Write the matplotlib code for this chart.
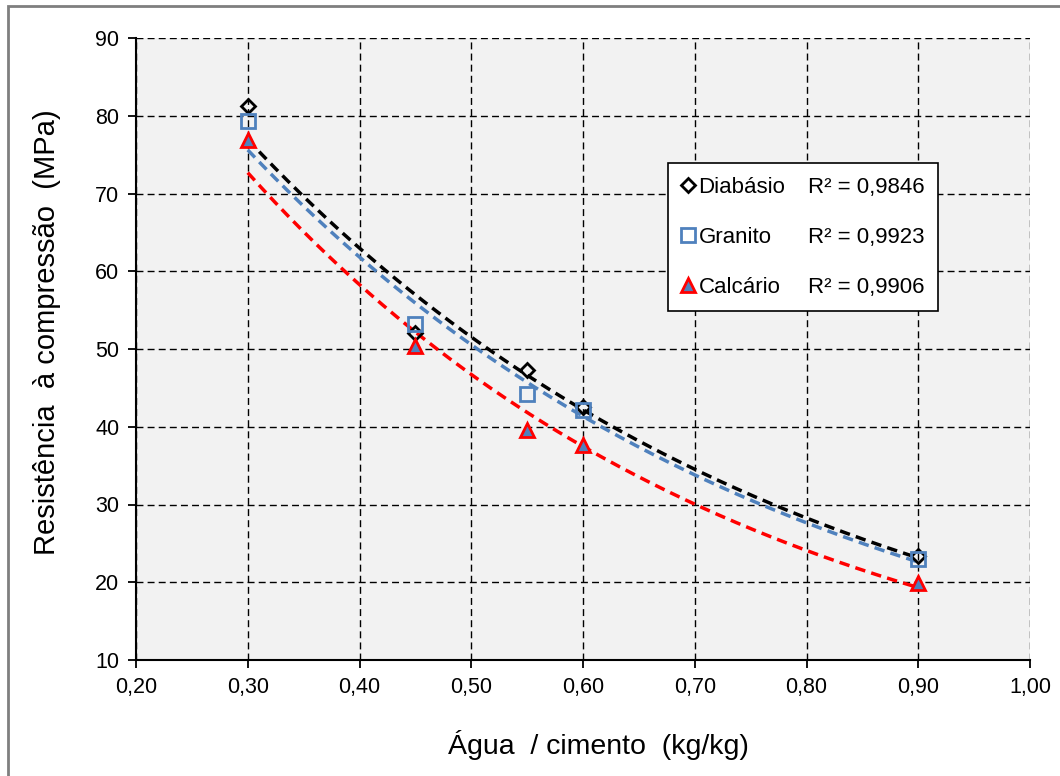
import matplotlib
matplotlib.use("Agg")
import matplotlib.pyplot as plt
import matplotlib.patches as patches
from matplotlib.lines import Line2D
from matplotlib.ticker import FuncFormatter, MultipleLocator
import numpy as np

plt.rcParams["font.family"] = ["Liberation Sans", "DejaVu Sans"]

# water/cement ratio and compressive strength (MPa)
wc = np.array([0.30, 0.45, 0.55, 0.60, 0.90])
diabasio = np.array([81.2, 52.1, 47.3, 42.6, 23.4])
granito = np.array([79.3, 53.2, 44.2, 42.1, 23.0])
calcario = np.array([76.9, 50.4, 39.6, 37.6, 19.9])

names = ["Diabásio", "Granito", "Calcário"]
r2_labels = ["R² = 0,9846", "R² = 0,9923", "R² = 0,9906"]

x_ticks = [0.20, 0.30, 0.40, 0.50, 0.60, 0.70, 0.80, 0.90, 1.00]

fig = plt.figure(figsize=(10.6, 7.76), dpi=100)
ax = fig.add_axes([136 / 1060, 1 - 660 / 776, (1030 - 136) / 1060, (660 - 38) / 776])
ax.set_facecolor("#f2f2f2")

# outer gray frame like the Excel chart area
fig.add_artist(patches.Rectangle((8 / 1060, -0.01), 1.1, 1 - 6 / 776 + 0.01,
                                 transform=fig.transFigure, fill=False,
                                 edgecolor="#7f7f7f", linewidth=2))

series = [
    (diabasio, "black", "D", "none", "black", 7.5),
    (granito, "#4f81bd", "s", "none", "#4f81bd", 9.5),
    (calcario, "red", "^", "#4f81bd", "red", 10.5),
]

handles = []
for (y, color, marker, mfc, mec, ms) in series:
    # exponential trend line (Excel style) fitted to the points
    b, ln_a = np.polyfit(wc, np.log(y), 1)
    xs = np.linspace(wc.min(), wc.max(), 200)
    ax.plot(xs, np.exp(ln_a) * np.exp(b * xs), color=color, linewidth=2.5,
            linestyle=(0, (3, 1.8)), zorder=3)
    ax.plot(wc, y, linestyle="none", marker=marker, markersize=ms,
            markerfacecolor=mfc, markeredgecolor=mec, markeredgewidth=2, zorder=4)
    handles.append(Line2D([], [], linestyle="none", marker=marker, markersize=ms,
                          markerfacecolor=mfc, markeredgecolor=mec, markeredgewidth=2))

ax.set_xlim(0.20, 1.00)
ax.set_ylim(10, 90)
ax.set_xticks(x_ticks)
ax.yaxis.set_major_locator(MultipleLocator(10))
ax.xaxis.set_major_formatter(FuncFormatter(lambda v, p: f"{v:.2f}".replace(".", ",")))
ax.grid(True, color="black", linestyle=(0, (5, 3)), linewidth=1)
ax.set_axisbelow(True)
for s in ["top", "right"]:
    ax.spines[s].set_visible(False)
for s in ["left", "bottom"]:
    ax.spines[s].set_linewidth(1.5)
ax.tick_params(direction="out", length=6, width=1.3, labelsize=15.5, pad=6)

ax.set_xlabel("Água  / cimento  (kg/kg)", fontsize=20.5, va="center")
ax.set_ylabel("Resistência  à compressão  (MPa)", fontsize=21, va="center")
ax.xaxis.set_label_coords(0.517, -0.137)
ax.yaxis.set_label_coords(-0.099, 0.527)

blank = [Line2D([], [], linestyle="none")] * 3
leg = ax.legend(handles + blank, names + r2_labels, ncol=2, loc="upper left",
                bbox_to_anchor=((668 - 136) / 894, 1 - (163 - 38) / 622),
                fontsize=16, frameon=True, fancybox=False, framealpha=1,
                edgecolor="black", handlelength=0.6, handletextpad=0.15,
                columnspacing=0.25, labelspacing=1.3, borderpad=0.62,
                borderaxespad=0)
leg.get_frame().set_linewidth(1.2)

fig.savefig("out.png", dpi=100, facecolor="white")
